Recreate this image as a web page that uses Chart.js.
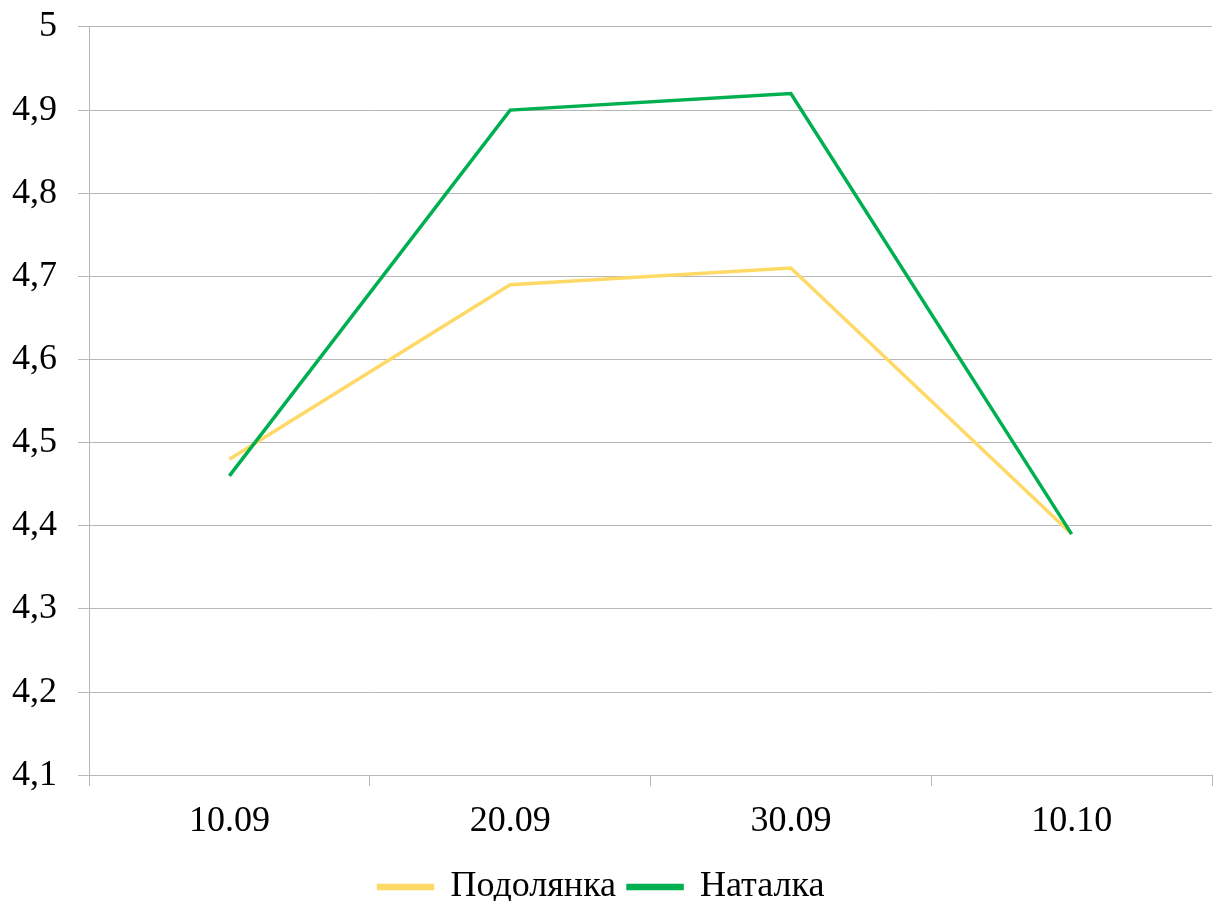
<!DOCTYPE html>
<html>
<head>
<meta charset="utf-8">
<script src="https://cdn.jsdelivr.net/npm/chart.js@4/dist/chart.umd.min.js"></script>
<style>
  html, body { margin: 0; padding: 0; background: #fff; }
  #wrap { width: 1214px; height: 901px; }
</style>
</head>
<body>
<div id="wrap"><canvas id="grafico"></canvas></div>
<script>
// ---- DATOS ----
const categorias = ["10.09", "20.09", "30.09", "10.10"];
const podolyanka = [4.48, 4.69, 4.71, 4.39];
const natalka = [4.46, 4.90, 4.92, 4.39];
const yMin = 4.1, yMax = 5.0, yStep = 0.1;

const FUENTE = "'Liberation Serif', 'Times New Roman', serif";
const gris = "#b7b7b7";

const ctx = document.getElementById("grafico").getContext("2d");
new Chart(ctx, {
  type: "line",
  data: {
    labels: categorias,
    datasets: [{
      label: "Подолянка",
      data: podolyanka,
      borderColor: "#ffd966",
      backgroundColor: "#ffd966",
      borderWidth: 3.5,
      pointRadius: 0,
      tension: 0,
      order: 1
    }, {
      label: "Наталка",
      data: natalka,
      borderColor: "#00b050",
      backgroundColor: "#00b050",
      borderWidth: 3.5,
      pointRadius: 0,
      tension: 0,
      order: 0
    }]
  },
  options: {
    responsive: true,
    maintainAspectRatio: false,
    animation: false,
    layout: { padding: { top: 0, right: 2, left: -9, bottom: -14 } },
    scales: {
      x: {
        offset: true,
        grid: { offset: true, drawOnChartArea: false, drawTicks: true, tickLength: 11, color: gris },
        border: { color: gris },
        ticks: { color: "#000", font: { family: FUENTE, size: 36, lineHeight: 0.3 }, padding: 30 }
      },
      y: {
        min: yMin,
        max: yMax,
        ticks: {
          stepSize: yStep,
          color: "#000",
          font: { family: FUENTE, size: 36, lineHeight: 0.33 },
          padding: 21,
          callback: v => String(Math.round(v * 10) / 10).replace(".", ",")
        },
        grid: { color: gris, tickLength: 11 },
        border: { color: gris }
      }
    },
    plugins: {
      legend: {
        position: "bottom",
        labels: {
          color: "#000",
          font: { family: FUENTE, size: 36, lineHeight: 1 },
          boxWidth: 54,
          boxHeight: 3,
          padding: 12,
          sort: (a, b) => a.datasetIndex - b.datasetIndex
        }
      },
      tooltip: { enabled: false }
    }
  }
});
</script>
</body>
</html>
